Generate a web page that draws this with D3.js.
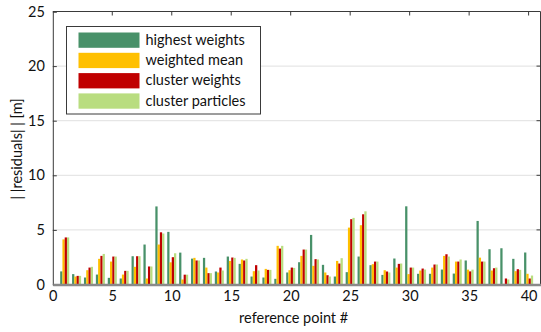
<!DOCTYPE html>
<html>
<head>
<meta charset="utf-8">
<script src="https://cdn.jsdelivr.net/npm/d3@7"></script>
<style>
  html, body { margin: 0; padding: 0; background: #fff; }
  svg { display: block; }
  text { font-family: Lato, "Open Sans", sans-serif; fill: #111; }
</style>
</head>
<body>
<svg id="chart" width="541" height="332"></svg>
<script>
// Residual norm per reference point for four estimation strategies
const points = d3.range(1, 41);
const seriesNames = ["highest weights", "weighted mean", "cluster weights", "cluster particles"];
const seriesColors = ["#489169", "#ffc000", "#c00000", "#b9dd80"];

const highestWeights = [1.2, 0.95, 0.64, 0.91, 0.61, 0.55, 2.59, 3.66, 7.15, 4.82,
  2.92, 2.37, 2.44, 1.19, 2.56, 1.89, 0.73, 0.64, 0.52, 1.1,
  2.04, 4.54, 1.8, 0.73, 1.13, 2.56, 1.77, 0.88, 2.38, 7.16,
  0.98, 0.98, 1.37, 1.0, 2.2, 5.82, 3.23, 3.32, 2.35, 2.93];
const weightedMean = [4.13, 0.73, 1.31, 2.35, 2.1, 0.91, 1.62, 0.55, 3.66, 2.03,
  0.46, 2.44, 1.55, 1.1, 2.16, 2.29, 1.22, 1.43, 3.54, 1.31,
  2.62, 1.71, 1.1, 2.16, 5.21, 5.43, 1.86, 1.31, 1.55, 0.95,
  1.28, 1.55, 2.62, 2.1, 1.36, 2.46, 1.28, 0.06, 1.22, 0.98];
const clusterWeights = [4.31, 0.79, 1.55, 2.62, 2.56, 1.25, 2.59, 1.65, 4.78, 2.5,
  0.9, 2.2, 1.04, 1.55, 2.47, 2.2, 1.77, 1.34, 3.29, 1.55,
  3.2, 2.32, 0.85, 1.92, 5.98, 6.43, 2.1, 1.19, 1.89, 1.55,
  1.46, 1.83, 2.77, 2.1, 1.2, 2.1, 1.49, 0.55, 1.4, 0.55];
const clusterParticles = [4.31, 0.79, 1.62, 2.8, 2.56, 1.25, 2.59, 1.65, 4.67, 2.86,
  0.9, 2.2, 1.04, 1.28, 2.44, 2.35, 1.28, 1.34, 3.54, 1.52,
  3.2, 2.29, 0.73, 2.41, 6.1, 6.7, 2.1, 1.1, 1.92, 1.55,
  1.37, 1.83, 2.56, 2.29, 1.36, 2.1, 1.55, 0.46, 1.34, 0.82];
const seriesValues = [highestWeights, weightedMean, clusterWeights, clusterParticles];

const xTicks = [0, 5, 10, 15, 20, 25, 30, 35, 40];
const yTicks = [0, 5, 10, 15, 20, 25];

const svg = d3.select("#chart");
const plotL = 52.8, plotR = 540.5, plotT = 11.5, plotB = 284.5;

const x = d3.scaleLinear().domain([0, 41]).range([plotL, plotR]);
const y = d3.scaleLinear().domain([0, 25]).range([plotB, plotT]);

// horizontal grid
svg.append("g").selectAll("line")
  .data(yTicks.filter(v => v > 0 && v < 25))
  .join("line")
  .attr("x1", plotL).attr("x2", plotR)
  .attr("y1", d => y(d)).attr("y2", d => y(d))
  .attr("stroke", "#e0e0e0").attr("stroke-width", 1);

// grouped bars
const groupWidth = 0.76;
const barW = groupWidth / seriesNames.length;
const sub = d3.scaleBand().domain(d3.range(seriesNames.length))
  .range([-groupWidth / 2, groupWidth / 2]);

seriesValues.forEach((vals, s) => {
  svg.append("g").selectAll("rect")
    .data(points.map((p, i) => ({ p, v: vals[i] })))
    .join("rect")
    .attr("x", d => x(d.p + sub(s)))
    .attr("width", x(barW) - x(0))
    .attr("y", d => y(d.v))
    .attr("height", d => y(0) - y(d.v))
    .attr("fill", seriesColors[s]);
});

// frame: top and right borders, inward ticks
const frame = svg.append("g").attr("stroke", "#3a3a3a").attr("stroke-width", 1);
frame.append("line").attr("x1", plotL).attr("x2", plotR).attr("y1", plotT).attr("y2", plotT);
frame.append("line").attr("x1", plotR).attr("x2", plotR).attr("y1", plotT).attr("y2", plotB);
frame.selectAll(".tt").data(xTicks.filter(v => v > 0)).join("line")
  .attr("x1", d => x(d)).attr("x2", d => x(d))
  .attr("y1", plotT).attr("y2", plotT + 4);
frame.selectAll(".rt").data(yTicks.filter(v => v > 0 && v < 25)).join("line")
  .attr("x1", plotR).attr("x2", plotR - 4)
  .attr("y1", d => y(d)).attr("y2", d => y(d));

// y axis
const yAxis = svg.append("g")
  .attr("transform", `translate(${plotL},0)`)
  .call(d3.axisLeft(y).tickValues(yTicks).tickSize(-4).tickPadding(8));
yAxis.select(".domain").attr("stroke", "#3a3a3a");
yAxis.selectAll(".tick line").attr("stroke", "#3a3a3a");
yAxis.selectAll("text").attr("font-size", 14.5).attr("font-family", "Lato, sans-serif").attr("fill", "#111");

// x axis
const xAxis = svg.append("g")
  .attr("transform", `translate(0,${plotB})`)
  .call(d3.axisBottom(x).tickValues(xTicks).tickSize(0).tickPadding(6));
xAxis.select(".domain").attr("stroke", "#8a8a8a").attr("stroke-width", 2.5);
xAxis.selectAll("text").attr("font-size", 14.5).attr("font-family", "Lato, sans-serif").attr("fill", "#111");

// axis titles
svg.append("text")
  .attr("x", (plotL + plotR) / 2 - 3).attr("y", 323)
  .attr("text-anchor", "middle").attr("font-size", 14.5)
  .text("reference point #");
svg.append("text")
  .attr("transform", `translate(22,${(plotT + plotB) / 2 + 1}) rotate(-90)`)
  .attr("text-anchor", "middle").attr("font-size", 14.5)
  .text("| |residuals| | [m]");

// legend
const legend = svg.append("g");
legend.append("rect")
  .attr("x", 66.5).attr("y", 26.5).attr("width", 194).attr("height", 87.5)
  .attr("fill", "#fff").attr("stroke", "#3a3a3a").attr("stroke-width", 1);
seriesNames.forEach((name, i) => {
  const ry = 32.5 + i * 20.3;
  legend.append("rect")
    .attr("x", 78.5).attr("y", ry).attr("width", 61).attr("height", 15.3)
    .attr("fill", seriesColors[i]);
  legend.append("text")
    .attr("x", 145.5).attr("y", ry + 12.3)
    .attr("font-size", 14.5)
    .text(name);
});
</script>
</body>
</html>
